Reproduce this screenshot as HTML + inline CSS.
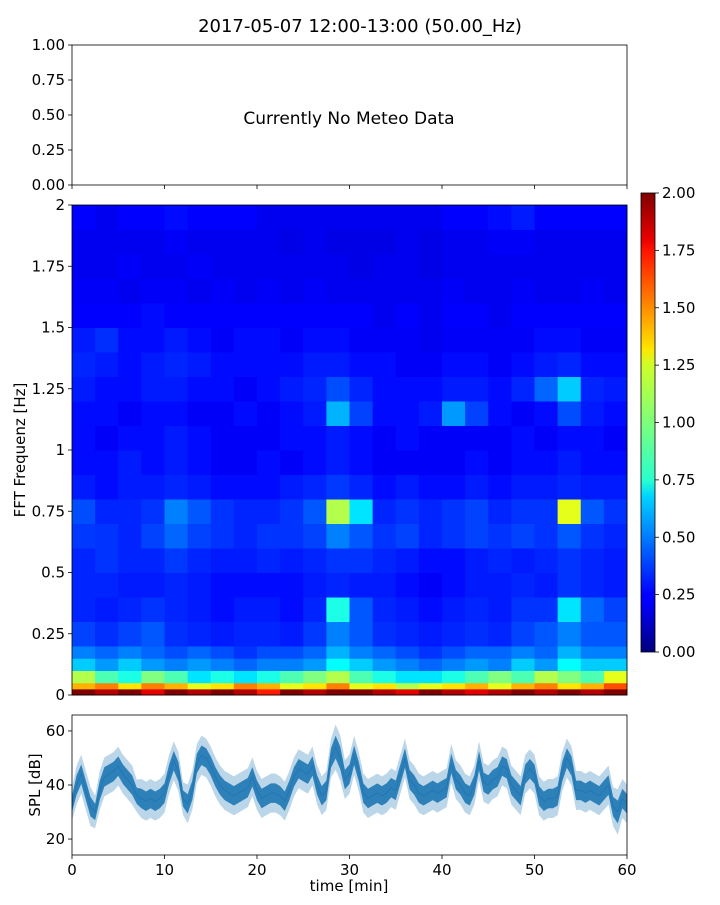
<!DOCTYPE html>
<html><head><meta charset="utf-8">
<style>
html,body{margin:0;padding:0;background:#fff;}
svg text{font-family:"DejaVu Sans","Liberation Sans",sans-serif;fill:#000;}
</style></head>
<body>
<svg id="fig" width="720" height="900" viewBox="0 0 720 900" xmlns="http://www.w3.org/2000/svg">
<defs>
<linearGradient id="jetgrad" x1="0" y1="1" x2="0" y2="0">
<stop offset="0" stop-color="#00007f"/><stop offset="0.11" stop-color="#0000ff"/><stop offset="0.125" stop-color="#0000ff"/>
<stop offset="0.34" stop-color="#00d4ff"/><stop offset="0.375" stop-color="#29ffce"/><stop offset="0.5" stop-color="#7dff7a"/>
<stop offset="0.625" stop-color="#ceff29"/><stop offset="0.66" stop-color="#ffe500"/><stop offset="0.875" stop-color="#ff1300"/>
<stop offset="0.9" stop-color="#e80000"/><stop offset="1" stop-color="#7f0000"/>
</linearGradient>
<clipPath id="splclip"><rect x="72" y="715" width="555" height="140"/></clipPath>
</defs>
<text x="360" y="32" font-size="18" text-anchor="middle">2017-05-07 12:00-13:00 (50.00_Hz)</text>
<g id="meteo"></g>
<g id="spec"></g>
<g id="cbar"></g>
<g id="spl"></g>
</svg>
<script>
// ---- data ----
const meteoTicks = ["0.00","0.25","0.50","0.75","1.00"];
const freqTickVals = [0,0.25,0.5,0.75,1,1.25,1.5,1.75,2];
const freqTickLabels = ["0","0.25","0.5","0.75","1","1.25","1.5","1.75","2"];
const cbarTickVals = [0,0.25,0.5,0.75,1,1.25,1.5,1.75,2];
const cbarTickLabels = ["0.00","0.25","0.50","0.75","1.00","1.25","1.50","1.75","2.00"];
const timeTicks = [0,10,20,30,40,50,60];
const splTicks = [20,40,60];
// frequency bin edges (Hz), bottom to top
const freqEdges = [0,0.025,0.05,0.1,0.15,0.2,0.3,0.4,0.5,0.6,0.7,0.8,0.9,1.0,1.1,1.2,1.3,1.4,1.5,1.6,1.7,1.8,1.9,2.0];
// spectrogram power values, one row per bin (bottom to top), 24 time columns (2.5 min each)
const specRows = [
[2.0,1.9,2.0,1.8,2.0,1.9,2.0,1.9,1.7,2.0,1.9,2.0,2.0,1.9,1.8,2.0,1.9,1.8,1.9,2.0,1.9,2.0,1.9,2.0],
[1.4,1.5,1.3,1.5,1.4,1.2,1.3,1.5,1.4,1.2,1.3,1.5,1.2,1.3,1.1,1.2,1.3,1.4,1.2,1.4,1.5,1.3,1.4,1.6],
[1.1,0.9,0.8,1.0,0.9,0.7,0.8,0.7,0.8,0.9,1.0,1.1,0.9,0.8,0.7,0.7,0.8,0.9,1.0,0.9,1.1,1.0,0.9,1.2],
[0.65,0.55,0.65,0.55,0.5,0.55,0.5,0.45,0.5,0.5,0.55,0.75,0.65,0.55,0.5,0.45,0.5,0.55,0.5,0.65,0.55,0.75,0.65,0.65],
[0.5,0.45,0.5,0.45,0.4,0.45,0.4,0.35,0.4,0.4,0.45,0.6,0.5,0.45,0.4,0.35,0.4,0.45,0.45,0.5,0.45,0.6,0.5,0.5],
[0.38,0.34,0.38,0.42,0.34,0.32,0.3,0.32,0.32,0.3,0.36,0.5,0.42,0.34,0.32,0.3,0.32,0.34,0.32,0.38,0.42,0.5,0.42,0.42],
[0.32,0.3,0.32,0.35,0.32,0.3,0.27,0.3,0.3,0.27,0.32,0.8,0.42,0.32,0.3,0.27,0.3,0.32,0.3,0.35,0.35,0.7,0.45,0.38],
[0.32,0.32,0.3,0.3,0.32,0.3,0.27,0.27,0.27,0.27,0.3,0.32,0.3,0.3,0.27,0.24,0.27,0.3,0.3,0.32,0.3,0.35,0.32,0.3],
[0.32,0.35,0.32,0.32,0.36,0.32,0.3,0.3,0.32,0.3,0.32,0.35,0.35,0.32,0.3,0.27,0.27,0.3,0.32,0.3,0.32,0.35,0.32,0.3],
[0.36,0.35,0.32,0.38,0.45,0.38,0.35,0.32,0.35,0.35,0.38,0.5,0.42,0.35,0.38,0.32,0.35,0.38,0.35,0.38,0.35,0.42,0.35,0.32],
[0.4,0.32,0.32,0.35,0.5,0.42,0.35,0.32,0.32,0.35,0.42,1.1,0.7,0.32,0.35,0.32,0.35,0.38,0.32,0.35,0.35,1.2,0.42,0.35],
[0.3,0.27,0.3,0.3,0.32,0.3,0.27,0.27,0.27,0.3,0.32,0.36,0.32,0.27,0.3,0.27,0.27,0.3,0.27,0.3,0.3,0.32,0.3,0.3],
[0.27,0.27,0.3,0.27,0.3,0.27,0.24,0.24,0.27,0.24,0.27,0.3,0.27,0.24,0.24,0.24,0.24,0.27,0.24,0.27,0.27,0.3,0.27,0.27],
[0.27,0.24,0.27,0.27,0.3,0.27,0.24,0.24,0.24,0.27,0.27,0.3,0.27,0.24,0.27,0.24,0.24,0.24,0.24,0.27,0.24,0.27,0.27,0.24],
[0.27,0.27,0.24,0.27,0.27,0.24,0.24,0.27,0.24,0.27,0.3,0.6,0.38,0.27,0.27,0.3,0.55,0.38,0.27,0.24,0.27,0.4,0.3,0.27],
[0.3,0.27,0.27,0.3,0.3,0.27,0.27,0.24,0.27,0.3,0.32,0.4,0.32,0.27,0.27,0.27,0.3,0.3,0.27,0.32,0.45,0.65,0.32,0.3],
[0.32,0.3,0.27,0.3,0.32,0.3,0.27,0.27,0.27,0.27,0.3,0.3,0.27,0.27,0.24,0.24,0.27,0.27,0.24,0.27,0.3,0.32,0.27,0.27],
[0.3,0.34,0.27,0.27,0.3,0.27,0.24,0.27,0.27,0.24,0.27,0.27,0.24,0.24,0.24,0.22,0.24,0.24,0.24,0.24,0.27,0.27,0.24,0.24],
[0.25,0.25,0.25,0.27,0.25,0.25,0.25,0.25,0.25,0.25,0.25,0.25,0.25,0.22,0.25,0.22,0.25,0.25,0.22,0.25,0.25,0.25,0.25,0.25],
[0.24,0.24,0.22,0.24,0.24,0.22,0.24,0.22,0.24,0.22,0.24,0.22,0.22,0.22,0.22,0.22,0.24,0.22,0.22,0.24,0.22,0.22,0.24,0.22],
[0.22,0.22,0.24,0.22,0.22,0.24,0.22,0.22,0.22,0.22,0.22,0.22,0.2,0.22,0.22,0.2,0.22,0.22,0.22,0.22,0.22,0.22,0.22,0.22],
[0.22,0.22,0.22,0.22,0.24,0.22,0.22,0.22,0.22,0.2,0.22,0.2,0.2,0.2,0.22,0.2,0.22,0.22,0.24,0.24,0.22,0.22,0.22,0.22],
[0.25,0.22,0.25,0.25,0.27,0.25,0.25,0.25,0.22,0.22,0.22,0.22,0.22,0.22,0.22,0.22,0.25,0.25,0.27,0.3,0.25,0.25,0.25,0.25]
];
// SPL mean (dB) every 0.5 min
const splMean = [33,40,44,38,32,30,38,43,44,45,47,44,42,40,36,35,34,35,34,35,37,44,49,45,35,33,38,48,51,50,47,43,40,38,37,36,37,38,39,43,38,35,36,37,37,36,34,38,43,46,45,44,47,40,36,38,50,54,50,42,44,51,45,37,35,36,37,36,37,39,38,44,50,42,40,37,36,37,38,37,38,39,48,42,40,37,36,40,49,41,40,42,43,47,46,40,38,36,44,46,44,36,34,35,35,36,45,50,47,38,38,37,38,37,36,38,40,32,30,35,33];
const splSpread = [5,6,6,6,6,5,6,6,6,6,6,6,6,6,5,6,6,6,6,6,6,6,6,6,5,6,6,6,6,6,6,6,6,6,6,6,6,6,6,6,6,6,6,6,6,6,6,6,6,6,6,6,6,6,6,6,6,7,7,6,6,6,6,6,6,6,6,6,6,6,6,6,6,6,6,6,6,6,6,6,6,6,6,6,6,6,6,6,6,6,6,6,6,6,6,6,6,6,6,6,6,6,6,6,6,6,6,6,6,6,6,6,6,6,6,6,6,6,7,6,6];

// ---- helpers ----
const NS="http://www.w3.org/2000/svg";
function mk(tag,attrs,parent){const e=document.createElementNS(NS,tag);for(const k in attrs)e.setAttribute(k,attrs[k]);parent.appendChild(e);return e;}
function jet(v){const x=Math.max(0,Math.min(1,v));
 const r=Math.max(0,Math.min(1,1.5-Math.abs(4*x-3))),g=Math.max(0,Math.min(1,1.5-Math.abs(4*x-2))),b=Math.max(0,Math.min(1,1.5-Math.abs(4*x-1)));
 return `rgb(${Math.round(r*255)},${Math.round(g*255)},${Math.round(b*255)})`;}
const X0=72,X1=627;
const xT=t=>X0+(t/60)*(X1-X0);

// ---- meteo panel ----
const meteo=document.getElementById('meteo');
const MY0=45,MY1=185;
meteoTicks.forEach((lab,i)=>{const y=MY1-(i/4)*(MY1-MY0);
 let l=mk('line',{x1:X0-4,x2:X0,y1:y,y2:y,stroke:'#000','stroke-width':0.8},meteo);
 
 let t=mk('text',{x:X0-7,y:y+5,'font-size':15,'text-anchor':'end'},meteo);t.textContent=lab;
 });
timeTicks.forEach(v=>{let l=mk('line',{x1:xT(v),x2:xT(v),y1:MY1,y2:MY1+4,stroke:'#000','stroke-width':0.8},meteo);
 });
let mt=mk('text',{x:349,y:124,'font-size':17,'text-anchor':'middle'},meteo);mt.textContent='Currently No Meteo Data';

let mf=mk('rect',{x:X0,y:MY0,width:X1-X0,height:MY1-MY0,fill:'none',stroke:'#000','stroke-width':0.8},meteo);


// ---- spectrogram ----
const spec=document.getElementById('spec');
const SY0=205,SY1=695;
const yF=f=>SY1-(f/2)*(SY1-SY0);
const nCols=specRows[0].length;
specRows.forEach((row,r)=>{row.forEach((v,c)=>{
 const x=xT(c*60/nCols),w=xT((c+1)*60/nCols)-x;const y=yF(freqEdges[r+1]),h=yF(freqEdges[r])-y;
 let cell=mk('rect',{x:x,y:y,width:w+0.5,height:h+0.5,fill:jet(v/2)},spec);
 });});
freqTickVals.forEach((v,i)=>{const y=yF(v);
 let l=mk('line',{x1:X0-4,x2:X0,y1:y,y2:y,stroke:'#000','stroke-width':0.8},spec);
 
 let t=mk('text',{x:X0-7,y:y+5,'font-size':15,'text-anchor':'end'},spec);t.textContent=freqTickLabels[i];
 });
let sf=mk('rect',{x:X0,y:SY0,width:X1-X0,height:SY1-SY0,fill:'none',stroke:'#000','stroke-width':0.8},spec);

let fy=mk('text',{x:0,y:0,'font-size':15,'text-anchor':'middle',transform:'translate(25,450) rotate(-90)'},spec);fy.textContent='FFT Frequenz [Hz]';


// ---- colorbar ----
const cbar=document.getElementById('cbar');
const CX=641,CW=14,CY0=193,CY1=652;
let cr=mk('rect',{x:CX,y:CY0,width:CW,height:CY1-CY0,fill:'url(#jetgrad)',stroke:'#000','stroke-width':0.8},cbar);

cbarTickVals.forEach((v,i)=>{const y=CY1-(v/2)*(CY1-CY0);
 let l=mk('line',{x1:CX+CW,x2:CX+CW+4,y1:y,y2:y,stroke:'#000','stroke-width':0.8},cbar);
 
 let t=mk('text',{x:CX+CW+7,y:y+5,'font-size':15},cbar);t.textContent=cbarTickLabels[i];
 });

// ---- SPL panel ----
const spl=document.getElementById('spl');
const PY0=715,PY1=855,DMIN=14.1,DMAX=65.9;
const yS=d=>PY1-(d-DMIN)/(DMAX-DMIN)*(PY1-PY0);
const n=splMean.length;
let up=[],lo=[],mid=[];
splMean.forEach((m,i)=>{const x=xT(i*60/(n-1));up.push(x+','+yS(m+splSpread[i]*1.2));lo.unshift(x+','+yS(m-splSpread[i]*1.2));mid.push(x+','+yS(m));});
let band=mk('polygon',{points:up.concat(lo).join(' '),fill:'#1f77b4','fill-opacity':0.3,'clip-path':'url(#splclip)'},spl);

let up2=[],lo2=[];
splMean.forEach((m,i)=>{const x=xT(i*60/(n-1));up2.push(x+','+yS(m+splSpread[i]*0.6));lo2.unshift(x+','+yS(m-splSpread[i]*0.6));});
let core=mk('polygon',{points:up2.concat(lo2).join(' '),fill:'#1f77b4','fill-opacity':0.9,'clip-path':'url(#splclip)'},spl);

let ml=mk('polyline',{points:mid.join(' '),fill:'none',stroke:'#1f77b4','stroke-width':1,'clip-path':'url(#splclip)'},spl);

splTicks.forEach(v=>{const y=yS(v);
 let l=mk('line',{x1:X0-4,x2:X0,y1:y,y2:y,stroke:'#000','stroke-width':0.8},spl);
 
 let t=mk('text',{x:X0-7,y:y+5,'font-size':15,'text-anchor':'end'},spl);t.textContent=v;
 });
timeTicks.forEach(v=>{const x=xT(v);
 let l=mk('line',{x1:x,x2:x,y1:PY1,y2:PY1+4,stroke:'#000','stroke-width':0.8},spl);
 
 let t=mk('text',{x:x,y:PY1+20,'font-size':15,'text-anchor':'middle'},spl);t.textContent=v;
 });
let pf=mk('rect',{x:X0,y:PY0,width:X1-X0,height:PY1-PY0,fill:'none',stroke:'#000','stroke-width':0.8},spl);

let py=mk('text',{x:0,y:0,'font-size':15,'text-anchor':'middle',transform:'translate(40,785) rotate(-90)'},spl);py.textContent='SPL [dB]';

let px=mk('text',{x:349,y:891,'font-size':15,'text-anchor':'middle'},spl);px.textContent='time [min]';

</script>
</body></html>
